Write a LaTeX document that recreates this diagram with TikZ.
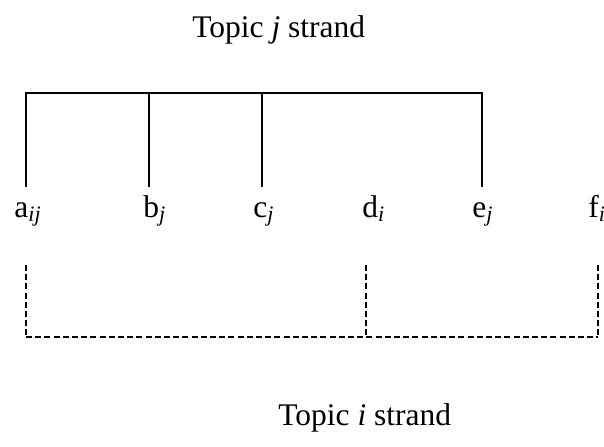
\documentclass[tikz,border=0pt]{standalone}
\usepackage{fontspec}
\setmainfont{Liberation Serif}
\begin{document}
\begin{tikzpicture}[x=0.5pt,y=-0.5pt,
  solidline/.style={line width=0.85pt},
  dashline/.style={line width=1pt, dash pattern=on 3pt off 1.6pt},
  lbl/.style={anchor=base west, inner sep=0pt, font=\fontsize{15.75}{18}\selectfont}]
\useasboundingbox (0,0) rectangle (604,446);
% titles
\node[lbl] (tj) at (192,37) {Topic \textit{j} strand};
\node[lbl] (ti) at (278,425) {Topic \textit{i} strand};
% labels
\node[lbl] (a) at (14,217) {a\textsubscript{\textit{ij}}};
\node[lbl] (b) at (143,217) {b\textsubscript{\textit{j}}};
\node[lbl] (c) at (253,217) {c\textsubscript{\textit{j}}};
\node[lbl] (d) at (362,217) {d\textsubscript{\textit{i}}};
\node[lbl] (e) at (472,217) {e\textsubscript{\textit{j}}};
\node[lbl] (f) at (588,217) {f\textsubscript{\textit{i}}};
% top strand coordinates
\coordinate (ta) at (26,93);
\coordinate (tb) at (149,93);
\coordinate (tc) at (262,93);
\coordinate (te) at (482,93);
\coordinate (ea) at (26,187);
\coordinate (eb) at (149,187);
\coordinate (ec) at (262,187);
\coordinate (ee) at (482,187);
\draw[solidline] (ea) -- (ta) -- (te) -- (ee);
\draw[solidline] (tb) -- (eb);
\draw[solidline] (tc) -- (ec);
% bottom strand coordinates
\coordinate (sa) at (26,265);
\coordinate (sd) at (366,265);
\coordinate (sf) at (598,265);
\coordinate (ba) at (26,337);
\coordinate (bd) at (366,337);
\coordinate (bf) at (598,337);
\draw[dashline] (sa) -- (ba);
\draw[dashline] (sd) -- (bd);
\draw[dashline] (sf) -- (bf);
\draw[dashline] (ba) -- (bf);
\end{tikzpicture}
\end{document}
